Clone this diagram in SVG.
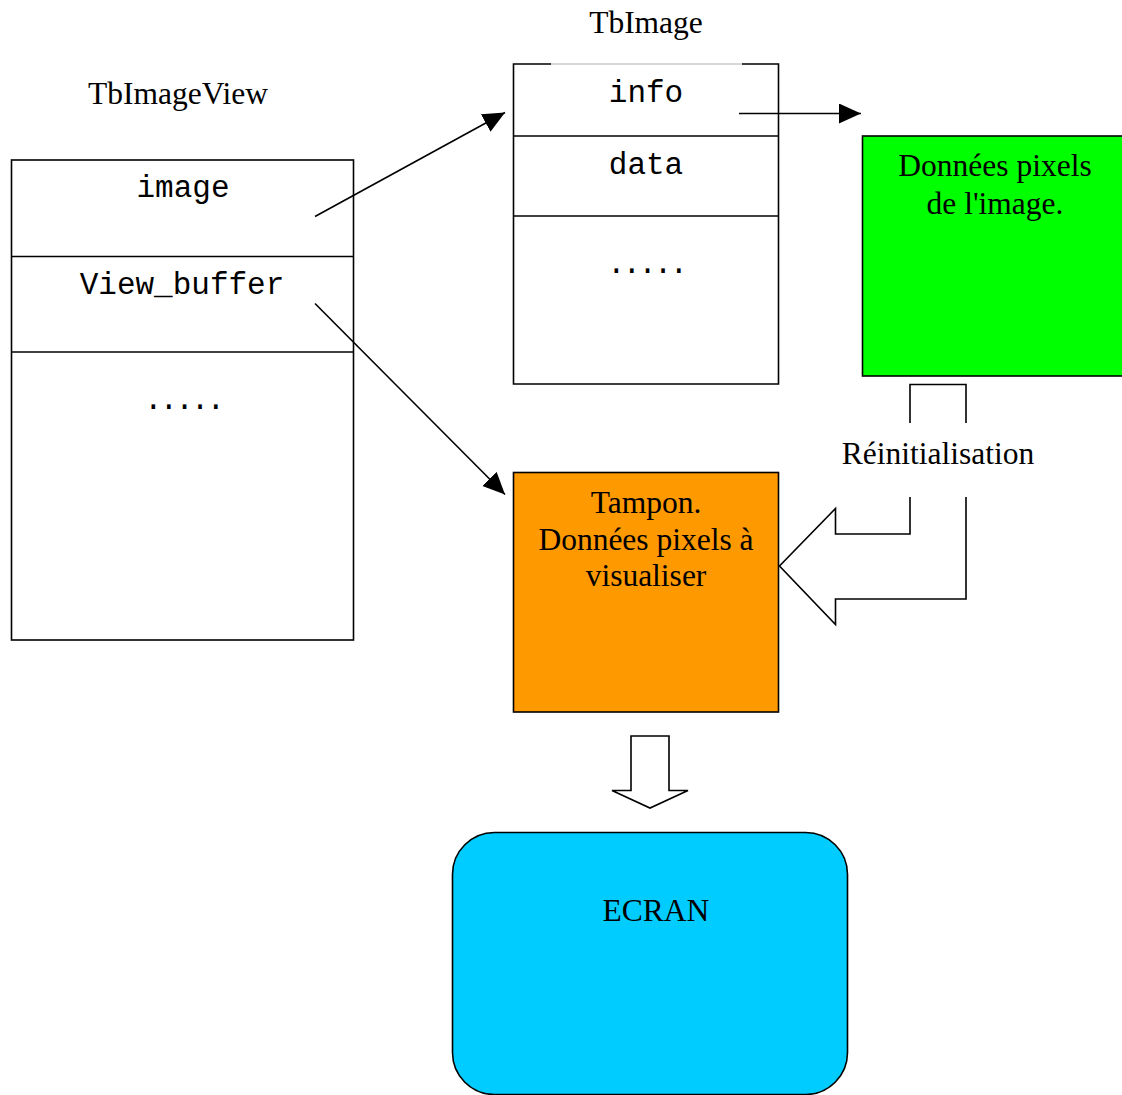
<svg xmlns="http://www.w3.org/2000/svg" width="1122" height="1095" viewBox="0 0 1122 1095">
  <defs>
    <marker id="head" markerUnits="userSpaceOnUse" markerWidth="24" markerHeight="22" refX="22" refY="10" orient="auto">
      <path d="M0,0 L22,10 L0,20 z" fill="#000"/>
    </marker>
    <style>
      .box { fill: #fff; stroke: #000; stroke-width: 1.6; }
      .line { stroke: #000; stroke-width: 1.6; fill: none; }
      .mono { font-family: "Liberation Mono", "Courier New", monospace; font-size: 31px; fill: #000; text-anchor: middle; }
      .dots { letter-spacing: -3px; }
      .serif { font-family: "Liberation Serif", "Times New Roman", serif; font-size: 31.5px; fill: #000; text-anchor: middle; }
      .block { fill: #fff; stroke: #000; stroke-width: 1.6; stroke-linejoin: miter; }
    </style>
  </defs>

  <!-- Titles -->
  <text class="serif" x="646" y="32.5">TbImage</text>
  <text class="serif" x="178" y="104">TbImageView</text>

  <!-- TbImageView structure -->
  <g id="tbimageview">
    <rect class="box" x="11.5" y="160" width="342" height="480"/>
    <line class="line" x1="11.5" y1="256.5" x2="353.5" y2="256.5"/>
    <line class="line" x1="11.5" y1="352" x2="353.5" y2="352"/>
    <text class="mono" x="183" y="197">image</text>
    <text class="mono" x="182" y="293.5">View_buffer</text>
    <text class="mono dots" x="183" y="409">.....</text>
  </g>

  <!-- TbImage structure -->
  <g id="tbimage">
    <path class="box" d="M551,64 L513.5,64 L513.5,384 L778.5,384 L778.5,64 L742,64"/>
    <line x1="551" y1="64" x2="742" y2="64" stroke="#b0b0b0" stroke-width="1"/>
    <line class="line" x1="513.5" y1="136" x2="778.5" y2="136"/>
    <line class="line" x1="513.5" y1="216" x2="778.5" y2="216"/>
    <text class="mono" x="646" y="101.5">info</text>
    <text class="mono" x="646" y="173.5">data</text>
    <text class="mono dots" x="646" y="273">.....</text>
  </g>

  <!-- Image pixel data -->
  <g id="pixels">
    <rect x="862.5" y="136" width="270" height="240" fill="#00ff00" stroke="#000" stroke-width="1.6"/>
    <text class="serif" x="995" y="176">Données pixels</text>
    <text class="serif" x="995" y="214">de l'image.</text>
  </g>

  <!-- Display buffer -->
  <g id="tampon">
    <rect x="513.5" y="472.5" width="265" height="239.5" fill="#ff9900" stroke="#000" stroke-width="1.6"/>
    <text class="serif" x="646" y="513">Tampon.</text>
    <text class="serif" x="646" y="550">Données pixels à</text>
    <text class="serif" x="646" y="586">visualiser</text>
  </g>

  <!-- Screen -->
  <g id="ecran">
    <rect x="452.5" y="832.5" width="395" height="262" rx="42" ry="42" fill="#00ccff" stroke="#000" stroke-width="1.6"/>
    <text class="serif" x="656" y="921">ECRAN</text>
  </g>

  <!-- Reset label -->
  <g id="reinit">
    <text class="serif" x="938" y="464">Réinitialisation</text>
  </g>

  <!-- Connectors -->
  <g id="connectors">
    <line class="line" x1="315" y1="216.5" x2="505" y2="112.5" marker-end="url(#head)"/>
    <line class="line" x1="315" y1="303.5" x2="505" y2="494.5" marker-end="url(#head)"/>
    <line class="line" x1="739" y1="113.5" x2="861" y2="113.5" marker-end="url(#head)"/>

    <!-- Reset block arrow, interrupted by its label -->
    <path class="block" fill="none" d="M910,423 L910,384.5 L966,384.5 L966,423"/>
    <path class="block" d="M910,497 L910,534 L835.5,534 L835.5,508.5 L779.5,566 L835.5,624.5 L835.5,599 L966,599 L966,497"/>

    <!-- Buffer to screen block arrow -->
    <path class="block" d="M631,736 L669,736 L669,790.5 L688,790.5 L650,808 L612,790.5 L631,790.5 Z"/>
  </g>
</svg>
